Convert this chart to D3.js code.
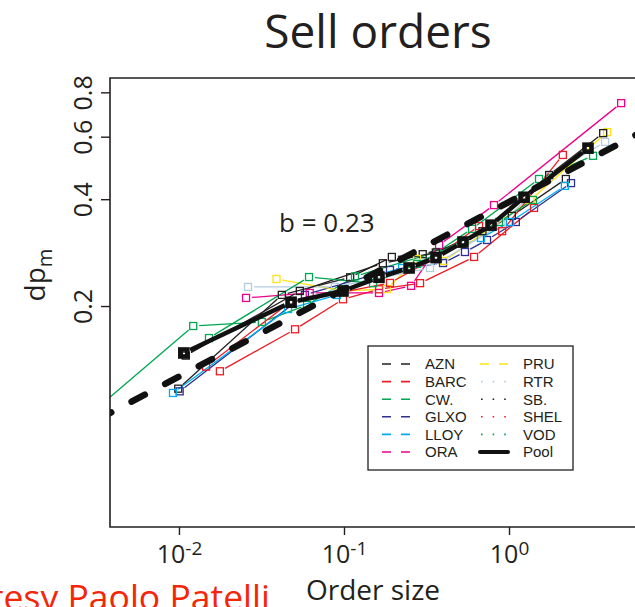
<!DOCTYPE html>
<html><head><meta charset="utf-8">
<script src="https://cdn.jsdelivr.net/npm/d3@7"></script>
<style>
html,body{margin:0;padding:0;background:#fff;overflow:hidden}
svg{display:block}
</style></head>
<body>
<svg id="chart" width="635" height="607"></svg>
<script>
// ---------- data ----------
const seriesNames = ['AZN','BARC','CW.','GLXO','LLOY','ORA','PRU','RTR','SB.','SHEL','VOD'];
const seriesColors = ['#231f20','#ed1c24','#00a651','#2e3192','#00aeef','#ec008c','#fbe315','#b3cde0','#231f20','#ed1c24','#00a651'];
const legendDash = ['dash','dash','dash','dash','dash','dash','dash','dot','dot','dot','dot'];

const AZN  = [[0.0099,0.117],[0.042,0.215],[0.109,0.241],[0.195,0.275],[0.30,0.280],[0.52,0.300],[1.04,0.359],[2.21,0.456]];
const BARC = [[0.0177,0.131],[0.0505,0.172],[0.0986,0.209],[0.163,0.223],[0.289,0.232],[0.614,0.275],[1.418,0.378]];
const CW   = [[0.0019,0.084],[0.0122,0.1757],[0.0318,0.1804],[0.0597,0.2014],[0.1166,0.2424],[0.366,0.284],[0.597,0.33],[1.52,0.456],[3.23,0.53]];
const GLXO = [[0.0101,0.115],[0.058,0.215],[0.19,0.2527],[0.398,0.2644],[0.541,0.284],[0.736,0.307],[1.10,0.345],[2.375,0.444]];
const LLOY = [[0.0092,0.1138],[0.0458,0.1962],[0.0908,0.2149],[0.15,0.243],[0.225,0.256],[0.676,0.311],[1.014,0.345],[2.18,0.436]];
const ORA  = [[0.0255,0.2108],[0.062,0.2177],[0.163,0.2177],[0.255,0.228],[0.377,0.297],[0.811,0.385],[4.78,0.746]];
const PRU  = [[0.039,0.2384],[0.10,0.2205],[0.182,0.2234],[0.277,0.2714],[0.404,0.268],[1.35,0.398],[3.93,0.618]];
const RTR  = [[0.0262,0.2264],[0.088,0.2264],[0.332,0.256],[0.9,0.34],[1.75,0.466],[3.82,0.58]];
const SB   = [[0.011,0.145],[0.054,0.2205],[0.172,0.264],[0.36,0.283],[0.69,0.325],[1.75,0.468],[3.72,0.614]];
const SHEL = [[0.0146,0.135],[0.047,0.205],[0.19,0.2323],[0.36,0.274],[0.658,0.336],[0.908,0.325],[2.12,0.533]];
const VOD  = [[0.0152,0.1625],[0.0614,0.2414],[0.15,0.232],[0.277,0.263],[0.869,0.345],[1.396,0.398]];
const seriesData = [AZN,BARC,CW,GLXO,LLOY,ORA,PRU,RTR,SB,SHEL,VOD];

const pool = [[0.0107,0.1475],[0.0478,0.205],[0.0986,0.2205],[0.163,0.241],[0.248,0.256],[0.361,0.274],[0.526,0.303],[0.778,0.338],[1.233,0.405],[3.01,0.557]];
const fitLine = [[0.003,0.0941],[8,0.655]];
const fitLabel = 'b = 0.23';

const xTicks = [0.01, 0.1, 1];
const xTickExp = ['-2','-1','0'];
const yTicks = [0.2, 0.4, 0.6, 0.8];
const xDomain = [0.00382, 7.15];
const yDomain = [0.0477, 0.878];

// ---------- layout ----------
const L = 110, R = 650, T = 78, B = 527;
const svg = d3.select('#chart');
const x = d3.scaleLog().domain(xDomain).range([L, R]);
const y = d3.scaleLog().domain(yDomain).range([B, T]);
const labelFont = "'Open Sans', 'Noto Sans', sans-serif";
const legendFont = "'Liberation Sans', Arial, sans-serif";

svg.append('clipPath').attr('id','clip').append('rect')
  .attr('x', L).attr('y', T).attr('width', R - L + 20).attr('height', B - T);

const plot = svg.append('g').attr('clip-path','url(#clip)');

function gapSegments(g, pts, color, width, gap) {
  const p = pts.map(d => [x(d[0]), y(d[1])]);
  for (let i = 0; i < p.length - 1; i++) {
    const [x0,y0] = p[i], [x1,y1] = p[i+1];
    const dx = x1-x0, dy = y1-y0, len = Math.hypot(dx,dy);
    if (len <= 2*gap) continue;
    const ux = dx/len, uy = dy/len;
    g.append('line')
      .attr('x1', x0+ux*gap).attr('y1', y0+uy*gap)
      .attr('x2', x1-ux*gap).attr('y2', y1-uy*gap)
      .attr('stroke', color).attr('stroke-width', width).attr('stroke-linecap','butt');
  }
}

// thin series lines
seriesData.forEach((s,i) => gapSegments(plot, s, seriesColors[i], 1.3, 6));
// thin series squares
seriesData.forEach((s,i) => {
  plot.selectAll(null).data(s).enter().append('rect')
    .attr('x', d => x(d[0]) - 3.5).attr('y', d => y(d[1]) - 3.5)
    .attr('width', 7).attr('height', 7)
    .attr('fill','none').attr('stroke', seriesColors[i]).attr('stroke-width', 1.3);
});

// fitted power law (thick dashed)
plot.append('path')
  .attr('d', d3.line().x(d => x(d[0])).y(d => y(d[1]))(fitLine))
  .attr('fill','none').attr('stroke','#111').attr('stroke-width', 6.5)
  .attr('stroke-linecap','round').attr('stroke-dasharray','15,23').attr('stroke-dashoffset', -6);

// pool
gapSegments(plot, pool, '#111', 4.5, 7);
plot.selectAll(null).data(pool).enter().append('rect')
  .attr('x', d => x(d[0]) - 3.5).attr('y', d => y(d[1]) - 3.5)
  .attr('width', 7).attr('height', 7)
  .attr('fill','none').attr('stroke','#111').attr('stroke-width', 4.6);

// frame (left, top, bottom)
svg.append('path')
  .attr('d', `M${R+20},${T}H${L}V${B}H${R+20}`)
  .attr('fill','none').attr('stroke','#231f20').attr('stroke-width',1.6);

// y axis
const yAxis = svg.append('g').attr('transform', `translate(${L},0)`)
  .call(d3.axisLeft(y).tickValues(yTicks).tickSize(9).tickSizeOuter(0).tickFormat(d3.format('.1f')));
yAxis.select('.domain').remove();
yAxis.selectAll('line').attr('stroke','#231f20').attr('stroke-width',1.4);
yAxis.selectAll('text')
  .attr('x', 0).attr('dy', 0)
  .attr('transform', 'translate(-18,0) rotate(-90)')
  .attr('text-anchor','middle')
  .attr('font-family', labelFont).attr('font-size', 25).attr('fill','#231f20');

// x axis
const xAxis = svg.append('g').attr('transform', `translate(0,${B})`)
  .call(d3.axisBottom(x).tickValues(xTicks).tickSize(8).tickSizeOuter(0).tickFormat(''));
xAxis.select('.domain').remove();
xAxis.selectAll('line').attr('stroke','#231f20').attr('stroke-width',1.4);
xAxis.selectAll('.tick').each(function(d, i) {
  const t = d3.select(this).append('text')
    .attr('y', 36).attr('text-anchor','middle')
    .attr('font-family', labelFont).attr('font-size', 25).attr('fill','#231f20');
  t.append('tspan').text('10');
  t.append('tspan').attr('dy', -8).attr('font-size', 19).text(xTickExp[i]);
});

// titles
svg.append('text').attr('x', 378).attr('y', 48).attr('text-anchor','middle')
  .attr('font-family', labelFont).attr('font-size', 46).attr('fill','#231f20').text('Sell orders');
svg.append('text').attr('x', 373).attr('y', 600).attr('text-anchor','middle')
  .attr('font-family', labelFont).attr('font-size', 28).attr('fill','#231f20').text('Order size');
const yl = svg.append('text').attr('transform','translate(45,275) rotate(-90)').attr('text-anchor','middle')
  .attr('font-family', labelFont).attr('font-size', 28).attr('fill','#231f20');
yl.append('tspan').text('dp');
yl.append('tspan').attr('dy', 7).attr('font-size', 20).text('m');

svg.append('text').attr('x', 279).attr('y', 232)
  .attr('font-family', labelFont).attr('font-size', 26).attr('fill','#231f20').text(fitLabel);

svg.append('text').attr('x', 270).attr('y', 610).attr('text-anchor','end')
  .attr('font-family', labelFont).attr('font-size', 35.5).attr('fill','#f4260a').text('Courtesy Paolo Patelli');

// legend
const lg = svg.append('g');
lg.append('rect').attr('x', 368).attr('y', 346).attr('width', 205).attr('height', 124)
  .attr('fill','#fff').attr('stroke','#231f20').attr('stroke-width',1.3);
const legendItems = seriesNames.map((n,i) => ({name:n, color:seriesColors[i], style:legendDash[i]}));
legendItems.push({name:'Pool', color:'#111', style:'pool'});
legendItems.forEach((it, i) => {
  const col = i < 6 ? 0 : 1, row = i % 6;
  const lx = col === 0 ? 382 : 480, tx = col === 0 ? 425 : 523;
  const cy = 364 + row * 17.6;
  const ln = lg.append('line').attr('x1', lx).attr('x2', lx + 28).attr('y1', cy).attr('y2', cy)
    .attr('stroke', it.color);
  if (it.style === 'dash') ln.attr('stroke-width', 1.6).attr('stroke-dasharray', '9,10');
  else if (it.style === 'dot') ln.attr('stroke-width', 1.6).attr('stroke-dasharray', '1.6,10').attr('x1', lx + 1);
  else ln.attr('stroke-width', 4).attr('stroke-linecap','round');
  lg.append('text').attr('x', tx).attr('y', cy + 5.4)
    .attr('font-family', legendFont).attr('font-size', 15).attr('fill','#231f20').text(it.name);
});
</script>
</body></html>
